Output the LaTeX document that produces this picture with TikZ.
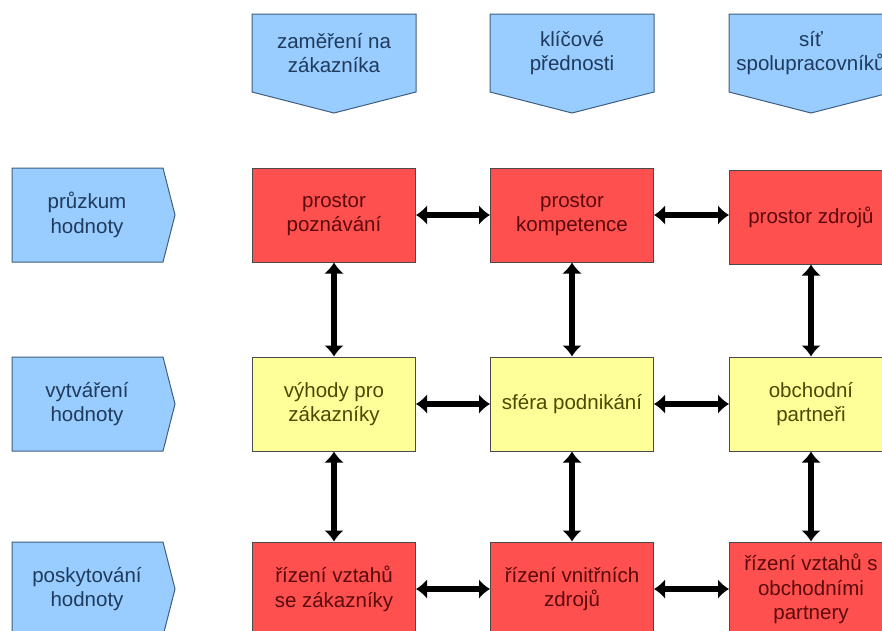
\documentclass[tikz,border=0pt]{standalone}
\usepackage{fontspec}
\setmainfont{Liberation Sans}
\usetikzlibrary{arrows.meta}
\definecolor{bluefill}{HTML}{99CCFF}
\definecolor{blueline}{HTML}{3F5F80}
\definecolor{bluetext}{HTML}{1F3A5C}
\definecolor{redfill}{HTML}{FF5050}
\definecolor{redtext}{HTML}{5A0A0A}
\definecolor{yelfill}{HTML}{FFFF99}
\definecolor{yeltext}{HTML}{4A4A00}
\definecolor{boxline}{HTML}{4A4A4A}
\tikzset{
  txt/.style={font=\fontsize{20.5}{24.5}\selectfont, align=center, inner sep=0pt},
  box/.style={txt, draw=boxline, line width=1pt, minimum width=163pt, minimum height=94pt},
  redbox/.style={box, fill=redfill, text=redtext},
  yelbox/.style={box, fill=yelfill, text=yeltext},
  hdr/.style={draw=blueline, fill=bluefill, line width=1pt, line join=miter},
  lbl/.style={txt, text=bluetext},
  dbl/.style={{Latex[length=11pt,width=20pt]}-{Latex[length=11pt,width=20pt]}, line width=6pt, black}
}
\begin{document}
\begin{tikzpicture}[x=1pt,y=-1pt]
\useasboundingbox (0,0) rectangle (882,630);
\clip (0,0) rectangle (882,630);
\fill[white] (0,0) rectangle (882,630);
% top headers (pointing down)
\foreach \cx in {334,572,811}{
  \path[hdr] (\cx-82,14) -- (\cx+82,14) -- (\cx+82,92) -- (\cx,113) -- (\cx-82,92) -- cycle;
}
\node[lbl] (h1) at (334,53) {zaměření na\\zákazníka};
\node[lbl] (h2) at (572,53) {klíčové\\přednosti};
\node[lbl] (h3) at (811,53) {síť\\spolupracovníků};
% left headers (pointing right)
\foreach \cy in {215,404,589}{
  \path[hdr] (12,\cy-47) -- (163,\cy-47) -- (175,\cy) -- (163,\cy+47) -- (12,\cy+47) -- cycle;
}
\node[lbl] (l1) at (87,215) {průzkum\\hodnoty};
\node[lbl] (l2) at (87,404) {vytváření\\hodnoty};
\node[lbl] (l3) at (87,589) {poskytování\\hodnoty};
% grid boxes
\node[redbox] (a1) at (334,215) {prostor\\poznávání};
\node[redbox] (a2) at (572,215) {prostor\\kompetence};
\node[redbox] (a3) at (811,217) {prostor zdrojů};
\node[yelbox] (b1) at (334,404) {výhody pro\\zákazníky};
\node[yelbox] (b2) at (572,404) {sféra podnikání};
\node[yelbox] (b3) at (811,404) {obchodní\\partneři};
\node[redbox] (c1) at (334,589) {řízení vztahů\\se zákazníky};
\node[redbox] (c2) at (572,589) {řízení vnitřních\\zdrojů};
\node[redbox] (c3) at (811,589) {řízení vztahů s\\obchodními\\partnery};
% connectors
\draw[dbl] (a1.east) -- (a2.west);
\draw[dbl] (a2.east) -- (a3.west |- a2.east);
\draw[dbl] (b1.east) -- (b2.west);
\draw[dbl] (b2.east) -- (b3.west);
\draw[dbl] (c1.east) -- (c2.west);
\draw[dbl] (c2.east) -- (c3.west);
\draw[dbl] (a1.south) -- (b1.north);
\draw[dbl] (a2.south) -- (b2.north);
\draw[dbl] (a3.south) -- (b3.north);
\draw[dbl] (b1.south) -- (c1.north);
\draw[dbl] (b2.south) -- (c2.north);
\draw[dbl] (b3.south) -- (c3.north);
\end{tikzpicture}
\end{document}
